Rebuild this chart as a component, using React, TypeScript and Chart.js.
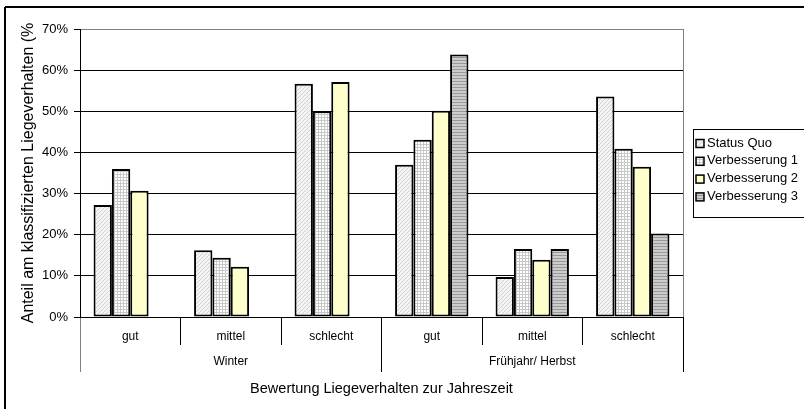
import React, { useEffect, useRef } from "react";
import { Chart, registerables } from "chart.js";

Chart.register(...registerables);

const categories = ["gut", "mittel", "schlecht", "gut", "mittel", "schlecht"];
const seasons = ["Winter", "Frühjahr/ Herbst"];
const seriesNames = ["Status Quo", "Verbesserung 1", "Verbesserung 2", "Verbesserung 3"];
const statusQuo = [27.2, 16.2, 56.7, 37.0, 9.7, 53.6];
const verbesserung1 = [36.0, 14.4, 50.0, 43.1, 16.5, 40.9];
const verbesserung2 = [30.7, 12.2, 57.1, 50.1, 13.9, 36.5];
const verbesserung3 = [null, null, null, 63.8, 16.5, 20.3];
const yMax = 70;
const yStep = 10;
const yTitle = "Anteil am klassifizierten Liegeverhalten (%";
const xTitle = "Bewertung Liegeverhalten zur Jahreszeit";

const SANS = "'Liberation Sans', Arial, sans-serif";

function makePattern(draw: (c: CanvasRenderingContext2D) => void, w: number, h: number) {
  const cv = document.createElement("canvas");
  cv.width = w;
  cv.height = h;
  const c = cv.getContext("2d")!;
  draw(c);
  const ctx = document.createElement("canvas").getContext("2d")!;
  return ctx.createPattern(cv, "repeat");
}

export default function App() {
  const ref = useRef<HTMLCanvasElement | null>(null);

  useEffect(() => {
    const canvas = ref.current;
    if (!canvas) return;

    const pSQ = makePattern((c) => {
      c.fillStyle = "#f4f4f4";
      c.fillRect(0, 0, 4, 4);
      c.fillStyle = "#d2d2d2";
      for (let i = 0; i < 4; i++) c.fillRect(i, 3 - i, 1, 1);
    }, 4, 4);
    const pV1 = makePattern((c) => {
      c.fillStyle = "#ffffff";
      c.fillRect(0, 0, 3, 3);
      c.fillStyle = "#c8c8c8";
      c.fillRect(0, 0, 3, 1);
      c.fillRect(0, 0, 1, 3);
    }, 3, 3);
    const pV3 = makePattern((c) => {
      c.fillStyle = "#cccccc";
      c.fillRect(0, 0, 1, 3);
      c.fillStyle = "#999999";
      c.fillRect(0, 0, 1, 1);
    }, 1, 3);
    const fills = [pSQ, pV1, "#ffffcc", pV3];
    const values = [statusQuo, verbesserung1, verbesserung2, verbesserung3];

    const framePlugin = {
      id: "frame",
      afterDraw(chart: any) {
        const { ctx, chartArea } = chart;
        ctx.save();
        ctx.strokeStyle = "#000";
        ctx.lineWidth = 2;
        ctx.beginPath();
        ctx.moveTo(5, 7);
        ctx.lineTo(chart.width + 2, 7);
        ctx.moveTo(5, 7);
        ctx.lineTo(5, chart.height + 2);
        ctx.stroke();
        ctx.strokeStyle = "#808080";
        ctx.lineWidth = 1;
        ctx.beginPath();
        ctx.moveTo(Math.round(chartArea.right) + 0.5, chartArea.top);
        ctx.lineTo(Math.round(chartArea.right) + 0.5, chartArea.bottom);
        ctx.stroke();
        const lx = chartArea.right + 10;
        const ly = 129;
        ctx.strokeStyle = "#000";
        ctx.lineWidth = 1;
        ctx.strokeRect(lx + 0.5, ly + 0.5, chart.width, 88);
        ctx.font = "13px " + SANS;
        ctx.textBaseline = "middle";
        ctx.textAlign = "left";
        chart.data.datasets.forEach((ds: any, i: number) => {
          const cy = ly + 14 + i * 17.8;
          ctx.fillStyle = ds.backgroundColor;
          ctx.fillRect(lx + 3, cy - 3.5, 8, 8);
          ctx.strokeStyle = "#000";
          ctx.lineWidth = 1.5;
          ctx.strokeRect(lx + 3, cy - 3.5, 8, 8);
          ctx.fillStyle = "#000";
          ctx.fillText(ds.label, lx + 14, cy);
        });
        ctx.restore();
      },
    };

    const chart = new Chart(canvas, {
      type: "bar",
      data: {
        labels: categories,
        datasets: seriesNames.map((name, i) => ({
          label: name,
          data: values[i] as any,
          backgroundColor: fills[i] as any,
          borderColor: "#000",
          borderWidth: 2,
          borderSkipped: false,
          categoryPercentage: 0.73,
          barPercentage: 1,
        })),
      },
      options: {
        animation: false,
        responsive: true,
        maintainAspectRatio: false,
        layout: { padding: { left: 0, top: 29, right: 121, bottom: 0 } },
        plugins: { legend: { display: false }, tooltip: { enabled: false } },
        scales: {
          x: {
            position: "bottom",
            weight: 0,
            afterFit: (s: any) => {
              s.height = 28;
            },
            border: { display: true, color: "#000", width: 1 },
            grid: {
              offset: true,
              drawOnChartArea: false,
              drawTicks: true,
              tickLength: 28,
              color: (c: any) => (c.index === 0 || c.index === categories.length ? "#808080" : "#000"),
            },
            ticks: {
              color: "#000",
              padding: -16,
              maxRotation: 0,
              autoSkip: false,
              font: { family: SANS, size: 12 },
            },
          },
          x2: {
            type: "category",
            position: "bottom",
            weight: 1,
            labels: seasons,
            offset: true,
            afterFit: (s: any) => {
              s.height = 64;
            },
            border: { display: false },
            grid: {
              offset: true,
              drawOnChartArea: false,
              drawTicks: true,
              tickLength: 27,
              color: (c: any) => (c.index === 0 || c.index === seasons.length ? "#808080" : "#000"),
            },
            ticks: {
              color: "#000",
              padding: -18,
              maxRotation: 0,
              autoSkip: false,
              font: { family: SANS, size: 12 },
            },
            title: {
              display: true,
              text: xTitle,
              color: "#000",
              font: { family: SANS, size: 14.5 },
              padding: { top: 0, bottom: 11 },
            },
          },
          y: {
            min: 0,
            max: yMax,
            afterFit: (s: any) => {
              s.width = 80;
            },
            border: { display: true, color: "#000", width: 1 },
            grid: {
              color: (c: any) => (c.tick && c.tick.value === yMax ? "#808080" : "#000"),
              tickColor: "#000",
              tickLength: 6,
              lineWidth: 1,
            },
            ticks: {
              stepSize: yStep,
              color: "#000",
              padding: 6,
              font: { family: SANS, size: 13 },
              callback: (v: any) => v + "%",
            },
            title: {
              display: true,
              text: yTitle,
              color: "#000",
              font: { family: SANS, size: 16 },
              padding: { top: 19, bottom: 0 },
            },
          },
        },
      },
      plugins: [framePlugin],
    } as any);

    return () => chart.destroy();
  }, []);

  return (
    <div style={{ position: "absolute", left: 0, top: 0, width: 804, height: 409, background: "#fff" }}>
      <canvas ref={ref} />
    </div>
  );
}
